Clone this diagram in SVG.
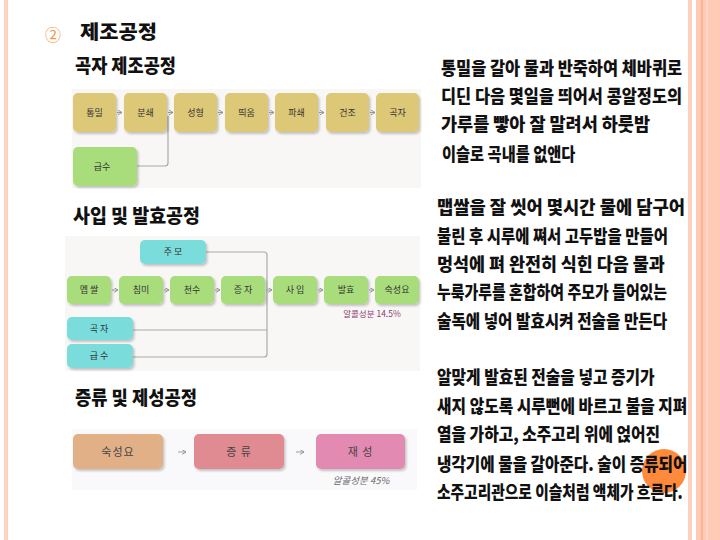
<svg xmlns="http://www.w3.org/2000/svg" width="720" height="540" viewBox="0 0 720 540">
<defs>
<style>
.t{font-family:"Noto Sans CJK KR","Noto Sans",sans-serif;}
.h{font-family:"Noto Sans CJK KR",sans-serif;font-weight:900;fill:#111;font-size:19px;}
.b{font-family:"Noto Sans CJK KR",sans-serif;font-weight:900;fill:#111;font-size:18px;}
.n{font-family:"Noto Sans CJK KR",sans-serif;font-size:9px;fill:#333;text-anchor:middle;}
.n3{font-family:"Noto Sans CJK KR",sans-serif;font-size:11px;fill:#444;text-anchor:middle;letter-spacing:1px;}
.y{fill:#DDC878;}
.g{fill:#A9DD7B;}
.c{fill:#7ADDDC;}
.bg{fill:#F8F7F5;}
.ar{stroke:#888;stroke-width:0.8;fill:none;marker-end:url(#ah);}
.ln{stroke:#AAA;stroke-width:1.2;fill:none;}
</style>
<marker id="ah" viewBox="0 0 6 6" refX="5" refY="3" markerWidth="5" markerHeight="5" orient="auto" markerUnits="userSpaceOnUse">
<path d="M0,0 L5,3 L0,6" fill="none" stroke="#888" stroke-width="1"/>
</marker>
<filter id="sh" x="-10%" y="-10%" width="130%" height="140%">
<feDropShadow dx="1.5" dy="2" stdDeviation="0.8" flood-color="#000" flood-opacity="0.22"/>
</filter>
</defs>
<rect width="720" height="540" fill="#FFFFFF"/>
<!-- borders -->
<rect x="4" y="0" width="4" height="540" fill="#FFCDB9"/>
<rect x="5.5" y="0" width="1" height="540" fill="#FFE2D6"/>
<rect x="688" y="0" width="4" height="540" fill="#FFD0BE"/>
<rect x="696" y="0" width="24" height="540" fill="#FFCBB6"/>
<rect x="701" y="0" width="2" height="540" fill="#FDB293"/>
<rect x="706" y="0" width="2" height="540" fill="#FFD8C8"/>

<!-- titles -->
<text x="45" y="41" class="t" font-size="16" fill="#F79646">②</text>
<text x="80" y="39" class="h" font-size="21" textLength="77" lengthAdjust="spacingAndGlyphs">제조공정</text>
<text x="75" y="73" class="h" textLength="101" lengthAdjust="spacingAndGlyphs">곡자 제조공정</text>
<text x="73" y="223" class="h" textLength="127" lengthAdjust="spacingAndGlyphs">사입 및 발효공정</text>
<text x="75" y="405" class="h" textLength="122" lengthAdjust="spacingAndGlyphs">증류 및 제성공정</text>

<!-- backgrounds -->
<rect x="72" y="89" width="349" height="99" class="bg"/>
<rect x="65" y="236" width="355" height="135" class="bg"/>
<rect x="72" y="429" width="345" height="61" fill="#F9F8FA"/>

<!-- connectors -->
<g id="connectors">
<path class="ar" d="M117,112.5 H122"/>
<path class="ar" d="M168,112.5 H173"/>
<path class="ar" d="M218,112.5 H223"/>
<path class="ar" d="M269,112.5 H274"/>
<path class="ar" d="M319,112.5 H324"/>
<path class="ar" d="M370,112.5 H375"/>
<path class="ln" d="M137,166 H165 Q168,166 168,163 V116"/>

<path class="ar" d="M112,290 H118"/>
<path class="ar" d="M164,290 H169"/>
<path class="ar" d="M215,290 H220"/>
<path class="ar" d="M266,290 H272"/>
<path class="ar" d="M318,290 H323"/>
<path class="ar" d="M369,290 H374"/>
<path class="ln" d="M206,252 H264 Q267,252 267,255 V354 Q267,357 264,357 H133"/>
<path class="ln" d="M133,330 H267"/>

<path class="ar" d="M178,452 H186"/>
<path class="ar" d="M296,452 H304"/>
</g>

<!-- diagram 1 -->
<g id="n1-1"><rect x="73" y="93" width="43" height="39" rx="5" class="y" filter="url(#sh)"/><text x="94.5" y="116" class="n">통밀</text></g>
<g id="n1-2"><rect x="124" y="93" width="43" height="39" rx="5" class="y" filter="url(#sh)"/><text x="145.5" y="116" class="n">분쇄</text></g>
<g id="n1-3"><rect x="174" y="93" width="43" height="39" rx="5" class="y" filter="url(#sh)"/><text x="195.5" y="116" class="n">성형</text></g>
<g id="n1-4"><rect x="225" y="93" width="43" height="39" rx="5" class="y" filter="url(#sh)"/><text x="246.5" y="116" class="n">띄움</text></g>
<g id="n1-5"><rect x="275" y="93" width="43" height="39" rx="5" class="y" filter="url(#sh)"/><text x="296.5" y="116" class="n">파쇄</text></g>
<g id="n1-6"><rect x="326" y="93" width="43" height="39" rx="5" class="y" filter="url(#sh)"/><text x="347.5" y="116" class="n">건조</text></g>
<g id="n1-7"><rect x="376" y="93" width="43" height="39" rx="5" class="y" filter="url(#sh)"/><text x="397.5" y="116" class="n">곡자</text></g>
<g id="n1-8"><rect x="73" y="147" width="64" height="39" rx="5" class="g" filter="url(#sh)"/><text x="102" y="170" class="n">급수</text></g>

<!-- diagram 2 -->
<g id="n2-jumo"><rect x="140" y="240" width="66" height="24" rx="5" class="c" filter="url(#sh)"/><text x="173" y="255" class="n">주 모</text></g>
<g id="n2-1"><rect x="67" y="276" width="44" height="28" rx="5" class="g" filter="url(#sh)"/><text x="89" y="293" class="n">멥 쌀</text></g>
<g id="n2-2"><rect x="119" y="276" width="44" height="28" rx="5" class="g" filter="url(#sh)"/><text x="141" y="293" class="n">침미</text></g>
<g id="n2-3"><rect x="170" y="276" width="44" height="28" rx="5" class="g" filter="url(#sh)"/><text x="192" y="293" class="n">천수</text></g>
<g id="n2-4"><rect x="221" y="276" width="44" height="28" rx="5" class="g" filter="url(#sh)"/><text x="243" y="293" class="n">증 자</text></g>
<g id="n2-5"><rect x="273" y="276" width="44" height="28" rx="5" class="g" filter="url(#sh)"/><text x="295" y="293" class="n">사 입</text></g>
<g id="n2-6"><rect x="324" y="276" width="44" height="28" rx="5" class="g" filter="url(#sh)"/><text x="346" y="293" class="n">발효</text></g>
<g id="n2-7"><rect x="375" y="276" width="44" height="28" rx="5" class="g" filter="url(#sh)"/><text x="397" y="293" class="n">숙성요</text></g>
<g id="n2-gokja"><rect x="67" y="317" width="66" height="23" rx="5" class="c" filter="url(#sh)"/><text x="99" y="332" class="n">곡 자</text></g>
<g id="n2-gupsu"><rect x="67" y="344" width="66" height="24" rx="5" class="c" filter="url(#sh)"/><text x="99" y="359" class="n">급 수</text></g>
<text x="372" y="317" class="t" font-size="8.5" fill="#8B3A74" text-anchor="middle">알콜성분 14.5%</text>

<!-- diagram 3 -->
<g id="n3-1"><rect x="73" y="434" width="90" height="35" rx="5" fill="#E2B087" filter="url(#sh)"/><text x="118" y="456" class="n3">숙성요</text></g>
<g id="n3-2"><rect x="194" y="434" width="90" height="35" rx="5" fill="#E08A92" filter="url(#sh)"/><text x="239" y="456" class="n3">증 류</text></g>
<g id="n3-3"><rect x="316" y="434" width="89" height="35" rx="5" fill="#E38AB2" filter="url(#sh)"/><text x="360.5" y="456" class="n3">재 성</text></g>
<text x="361" y="484" class="t" font-size="9.5" fill="#666" text-anchor="middle" font-style="italic">알콜성분 45%</text>

<!-- right text -->
<circle cx="664" cy="471" r="22" fill="#FF8A3C"/>
<g id="desc1">
<text class="b" transform="translate(441,75) scale(0.78,1)" textLength="309" lengthAdjust="spacingAndGlyphs">통밀을 갈아 물과 반죽하여 체바퀴로</text>
<text class="b" transform="translate(441,103) scale(0.78,1)" textLength="309" lengthAdjust="spacingAndGlyphs">디딘 다음 몇일을 띄어서 콩알정도의</text>
<text class="b" transform="translate(441,131) scale(0.78,1)" textLength="268" lengthAdjust="spacingAndGlyphs">가루를 빻아 잘 말려서 하룻밤</text>
<text class="b" transform="translate(442,161) scale(0.78,1)" textLength="171" lengthAdjust="spacingAndGlyphs">이슬로 곡내를 없앤다</text>
</g>
<g id="desc2">
<text class="b" transform="translate(437,214) scale(0.78,1)" textLength="318" lengthAdjust="spacingAndGlyphs">맵쌀을 잘 씻어 몇시간 물에 담구어</text>
<text class="b" transform="translate(437,243) scale(0.78,1)" textLength="296" lengthAdjust="spacingAndGlyphs">불린 후 시루에 쪄서 고두밥을 만들어</text>
<text class="b" transform="translate(437,271) scale(0.78,1)" textLength="292" lengthAdjust="spacingAndGlyphs">멍석에 펴 완전히 식힌 다음 물과</text>
<text class="b" transform="translate(437,299) scale(0.78,1)" textLength="295" lengthAdjust="spacingAndGlyphs">누룩가루를 혼합하여 주모가 들어있는</text>
<text class="b" transform="translate(437,328) scale(0.78,1)" textLength="295" lengthAdjust="spacingAndGlyphs">술독에 넣어 발효시켜 전술을 만든다</text>
</g>
<g id="desc3">
<text class="b" transform="translate(437,384) scale(0.78,1)" textLength="279" lengthAdjust="spacingAndGlyphs">알맞게 발효된 전술을 넣고 증기가</text>
<text class="b" transform="translate(437,413) scale(0.78,1)" textLength="321" lengthAdjust="spacingAndGlyphs">새지 않도록 시루뻔에 바르고 불을 지펴</text>
<text class="b" transform="translate(437,441) scale(0.78,1)" textLength="286" lengthAdjust="spacingAndGlyphs">열을 가하고, 소주고리 위에 얹어진</text>
<text class="b" transform="translate(437,471) scale(0.78,1)" textLength="321" lengthAdjust="spacingAndGlyphs">냉각기에 물을 갈아준다. 술이 증류되어</text>
<text class="b" transform="translate(437,499) scale(0.78,1)" textLength="315" lengthAdjust="spacingAndGlyphs">소주고리관으로 이슬처럼 액체가 흐른다.</text>
</g>
</svg>
